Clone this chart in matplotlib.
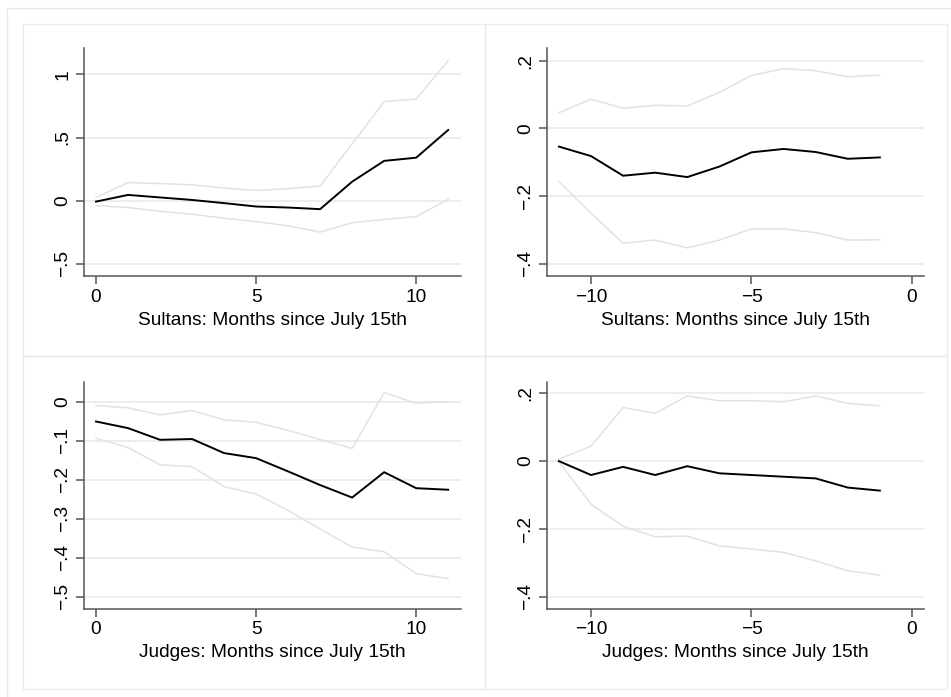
import matplotlib.pyplot as plt
from matplotlib.patches import Rectangle

plt.rcParams['font.family'] = ['Liberation Sans', 'DejaVu Sans']
plt.rcParams['font.size'] = 13.8

# mois depuis le 15 juillet
mois_apres = list(range(0, 12))
mois_avant = list(range(-11, 0))

# sultans, apres
sultans_apres = [-0.008, 0.045, 0.025, 0.005, -0.02, -0.047, -0.055, -0.068, 0.15, 0.315, 0.34, 0.56]
sultans_apres_haut = [0.025, 0.143, 0.135, 0.125, 0.10, 0.08, 0.095, 0.115, 0.45, 0.785, 0.805, 1.11]
sultans_apres_bas = [-0.04, -0.055, -0.085, -0.108, -0.14, -0.167, -0.20, -0.25, -0.175, -0.15, -0.127, 0.01]

# sultans, avant
sultans_avant = [-0.054, -0.082, -0.14, -0.131, -0.144, -0.113, -0.071, -0.061, -0.07, -0.09, -0.086]
sultans_avant_haut = [0.046, 0.086, 0.059, 0.068, 0.066, 0.106, 0.156, 0.176, 0.17, 0.152, 0.157]
sultans_avant_bas = [-0.157, -0.251, -0.339, -0.33, -0.353, -0.33, -0.297, -0.297, -0.308, -0.33, -0.329]

# juges, apres
juges_apres = [-0.051, -0.068, -0.098, -0.096, -0.132, -0.145, -0.179, -0.214, -0.246, -0.181, -0.222, -0.226]
juges_apres_haut = [-0.010, -0.016, -0.034, -0.023, -0.047, -0.053, -0.074, -0.097, -0.12, 0.023, -0.004, 0.0]
juges_apres_bas = [-0.094, -0.118, -0.162, -0.167, -0.218, -0.237, -0.279, -0.327, -0.373, -0.385, -0.441, -0.454]

# juges, avant
juges_avant = [0.0, -0.041, -0.017, -0.041, -0.015, -0.036, -0.041, -0.046, -0.051, -0.078, -0.087]
juges_avant_haut = [0.006, 0.044, 0.158, 0.141, 0.192, 0.178, 0.178, 0.175, 0.192, 0.17, 0.163]
juges_avant_bas = [-0.002, -0.127, -0.192, -0.223, -0.221, -0.25, -0.259, -0.269, -0.294, -0.323, -0.336]

# graduations facon stata
xt_apres = [0, 5, 10]
xt_apres_lab = ["0", "5", "10"]
xt_avant = [-10, -5, 0]
xt_avant_lab = ["\u221210", "\u22125", "0"]

yt_sa = [-0.5, 0, 0.5, 1]
yt_sa_lab = ["\u2212.5", "0", ".5", "1"]
yt_av = [-0.4, -0.2, 0, 0.2]
yt_av_lab = ["\u2212.4", "\u2212.2", "0", ".2"]
yt_ja = [-0.5, -0.4, -0.3, -0.2, -0.1, 0]
yt_ja_lab = ["\u2212.5", "\u2212.4", "\u2212.3", "\u2212.2", "\u2212.1", "0"]

W, H = 951, 697
fig = plt.figure(figsize=(W / 100, H / 100), dpi=100)

def px_axes(x0, y0, x1, y1):
    return fig.add_axes([x0 / W, 1 - y1 / H, (x1 - x0) / W, (y1 - y0) / H])

def cadre(x0, y0, x1, y1, couleur):
    fig.patches.append(Rectangle((x0 / W, 1 - y1 / H), (x1 - x0) / W, (y1 - y0) / H,
                                 transform=fig.transFigure, fill=False,
                                 edgecolor=couleur, linewidth=1.0, zorder=0))

# cadres autour de chaque graphique
cadre(7, 8, 960, 710, "#e3ebed")
cadre(23, 24, 485, 356, "#ebebeb")
cadre(485, 24, 947, 356, "#ebebeb")
cadre(23, 356, 485, 689, "#ebebeb")
cadre(485, 356, 947, 689, "#ebebeb")

def graphique(ax, x, y, haut, bas, xlim, ylim, xt, xtl, yt, ytl, titre):
    ax.plot(x, haut, color="#e2e2e2", lw=1.1, zorder=2)
    ax.plot(x, bas, color="#e2e2e2", lw=1.1, zorder=2)
    ax.plot(x, y, color="black", lw=1.4, zorder=3)
    ax.set_xlim(xlim)
    ax.set_ylim(ylim)
    ax.set_xticks(xt)
    ax.set_xticklabels(xtl)
    ax.set_yticks(yt)
    ax.set_yticklabels(ytl, rotation=90, va="center")
    ax.yaxis.grid(True, color="#e8e8e8", lw=1.1)
    ax.set_axisbelow(True)
    for s in ["top", "right"]:
        ax.spines[s].set_visible(False)
    for s in ["left", "bottom"]:
        ax.spines[s].set_color("#555555")
        ax.spines[s].set_linewidth(1.1)
    ax.tick_params(axis="both", length=5.5, width=1.1, color="#555555")
    ax.tick_params(axis="y", pad=3.5)
    ax.tick_params(axis="x", pad=3.5)
    ax.set_xlabel(titre, labelpad=4.5)

ax1 = px_axes(84, 48, 461, 276)
graphique(ax1, mois_apres, sultans_apres, sultans_apres_haut, sultans_apres_bas,
          (-0.375, 11.4), (-0.598, 1.21), xt_apres, xt_apres_lab, yt_sa, yt_sa_lab,
          "Sultans: Months since July 15th")

ax2 = px_axes(546.7, 48, 924, 276)
graphique(ax2, mois_avant, sultans_avant, sultans_avant_haut, sultans_avant_bas,
          (-11.38, 0.375), (-0.436, 0.237), xt_avant, xt_avant_lab, yt_av, yt_av_lab,
          "Sultans: Months since July 15th")

ax3 = px_axes(84, 381.7, 461, 608.7)
graphique(ax3, mois_apres, juges_apres, juges_apres_haut, juges_apres_bas,
          (-0.375, 11.4), (-0.531, 0.051), xt_apres, xt_apres_lab, yt_ja, yt_ja_lab,
          "Judges: Months since July 15th")

ax4 = px_axes(546.7, 381.7, 924, 608.7)
graphique(ax4, mois_avant, juges_avant, juges_avant_haut, juges_avant_bas,
          (-11.38, 0.375), (-0.435, 0.234), xt_avant, xt_avant_lab, yt_av, yt_av_lab,
          "Judges: Months since July 15th")

fig.savefig("out.png", dpi=100)
